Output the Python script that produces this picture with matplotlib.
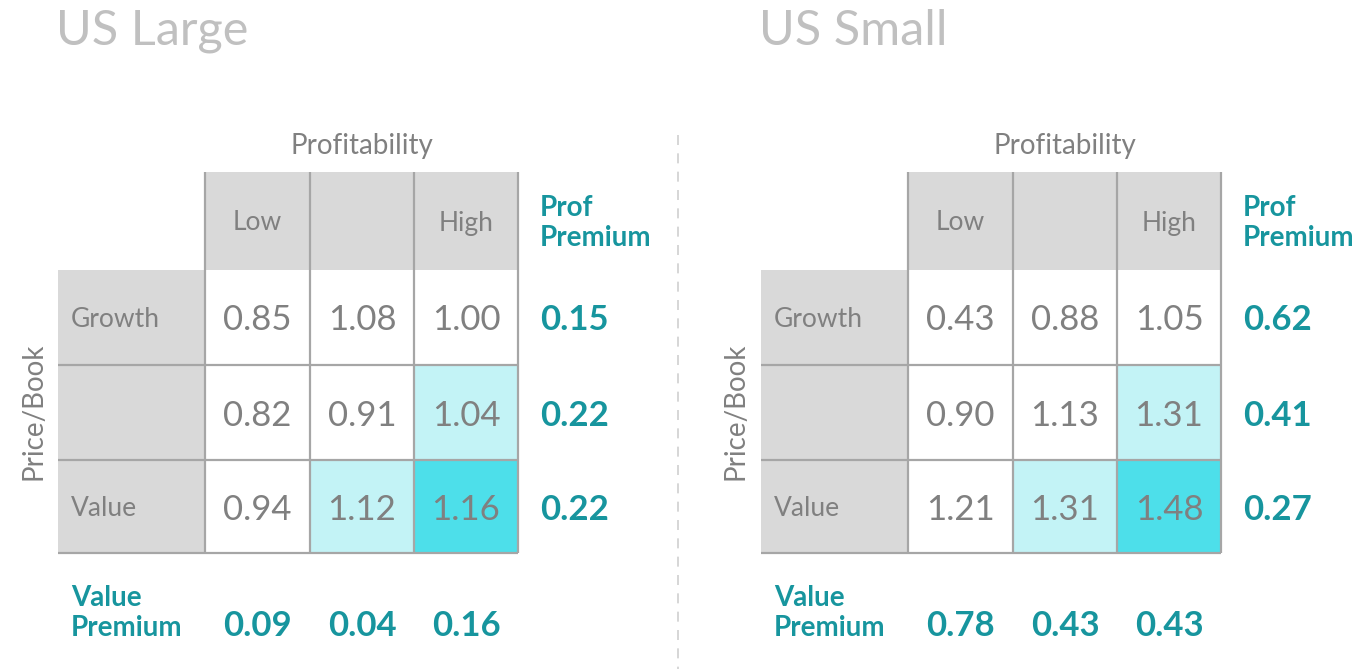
"""
Two 3x3 return grids (US Large / US Small) sorted on
price/book and profitability, with premium row and column.
"""

import matplotlib.pyplot as plt
from matplotlib.patches import Rectangle

# ---- data ----
panels = ["US Large", "US Small"]
col_labels = ["Low", "", "High"]
row_labels = ["Growth", "", "Value"]

large_values = [[0.85, 1.08, 1.00],
                [0.82, 0.91, 1.04],
                [0.94, 1.12, 1.16]]
small_values = [[0.43, 0.88, 1.05],
                [0.90, 1.13, 1.31],
                [1.21, 1.31, 1.48]]

large_prof_premium = [0.15, 0.22, 0.22]
small_prof_premium = [0.62, 0.41, 0.27]
large_value_premium = [0.09, 0.04, 0.16]
small_value_premium = [0.78, 0.43, 0.43]

# ---- style ----
GRAY_FILL = "#d9d9d9"
LINE = "#a6a6a6"
TEXT = "#808080"
TITLE = "#c0c0c0"
TEAL = "#17959e"
SHADES = {0: "white", 1: "#c3f3f6", 2: "#4ddfea"}
shade = [[0, 0, 0],
         [0, 0, 1],
         [0, 1, 2]]

plt.rcParams["font.family"] = ["Lato", "DejaVu Sans"]


def draw_panel(ax, x0, title, values, prof_prem, value_prem):
    """Draw one table; x0 is the left edge of the row label column (px)."""
    col_x = [x0 + 147, x0 + 252, x0 + 356, x0 + 460]
    row_y = [270, 365, 460, 553]
    top = 172

    ax.text(x0 - 2, 31, title, fontsize=35, color=TITLE,
            ha="left", va="center")
    ax.text((col_x[0] + col_x[-1]) / 2, 146, "Profitability", fontsize=20,
            color=TEXT, ha="center", va="center")
    ax.text(x0 - 25, (row_y[0] + row_y[-1]) / 2, "Price/Book", fontsize=20,
            color=TEXT, ha="center", va="center", rotation=90)

    # header cells
    for j, lab in enumerate(col_labels):
        ax.add_patch(Rectangle((col_x[j], top), col_x[j + 1] - col_x[j],
                               row_y[0] - top, facecolor=GRAY_FILL,
                               edgecolor="none"))
        ax.text((col_x[j] + col_x[j + 1]) / 2, (top + row_y[0]) / 2 + 2, lab,
                fontsize=19, color=TEXT, ha="center", va="center")

    # body
    for i in range(3):
        y_a, y_b = row_y[i], row_y[i + 1]
        ax.add_patch(Rectangle((x0, y_a), col_x[0] - x0, y_b - y_a,
                               facecolor=GRAY_FILL, edgecolor="none"))
        ax.text(x0 + 13, (y_a + y_b) / 2 + 2, row_labels[i], fontsize=19,
                color=TEXT, ha="left", va="center")
        for j in range(3):
            ax.add_patch(Rectangle((col_x[j], y_a), col_x[j + 1] - col_x[j],
                                   y_b - y_a, facecolor=SHADES[shade[i][j]],
                                   edgecolor="none"))
            ax.text((col_x[j] + col_x[j + 1]) / 2, (y_a + y_b) / 2 + 3,
                    f"{values[i][j]:.2f}", fontsize=25, color=TEXT,
                    ha="center", va="center")
        ax.text(col_x[-1] + 22, (y_a + y_b) / 2 + 3, f"{prof_prem[i]:.2f}",
                fontsize=25, color=TEAL, fontweight="bold",
                ha="left", va="center")

    # grid lines
    for x in col_x:
        ax.plot([x, x], [top, row_y[-1]], color=LINE, lw=1.6,
                solid_capstyle="butt")
    for y in row_y[1:]:
        ax.plot([x0, col_x[-1]], [y, y], color=LINE, lw=1.6,
                solid_capstyle="butt")

    ax.text(col_x[-1] + 22, 223, "Prof\nPremium", fontsize=20, color=TEAL,
            fontweight="bold", ha="left", va="center", linespacing=1.15)
    ax.text(x0 + 13, 613, "Value\nPremium", fontsize=20, color=TEAL,
            fontweight="bold", ha="left", va="center", linespacing=1.15)
    for j in range(3):
        ax.text((col_x[j] + col_x[j + 1]) / 2, 626, f"{value_prem[j]:.2f}",
                fontsize=25, color=TEAL, fontweight="bold",
                ha="center", va="center")


def main():
    fig = plt.figure(figsize=(13.72, 6.69), dpi=100)
    ax = fig.add_axes([0, 0, 1, 1])
    ax.set_xlim(0, 1372)
    ax.set_ylim(669, 0)
    ax.axis("off")

    draw_panel(ax, 58, panels[0], large_values,
               large_prof_premium, large_value_premium)
    draw_panel(ax, 761, panels[1], small_values,
               small_prof_premium, small_value_premium)

    ax.plot([678, 678], [135, 669], color="#d0d0d0", lw=1.2,
            linestyle=(0, (6, 5)))

    fig.savefig("out.png", dpi=100)


if __name__ == "__main__":
    main()
